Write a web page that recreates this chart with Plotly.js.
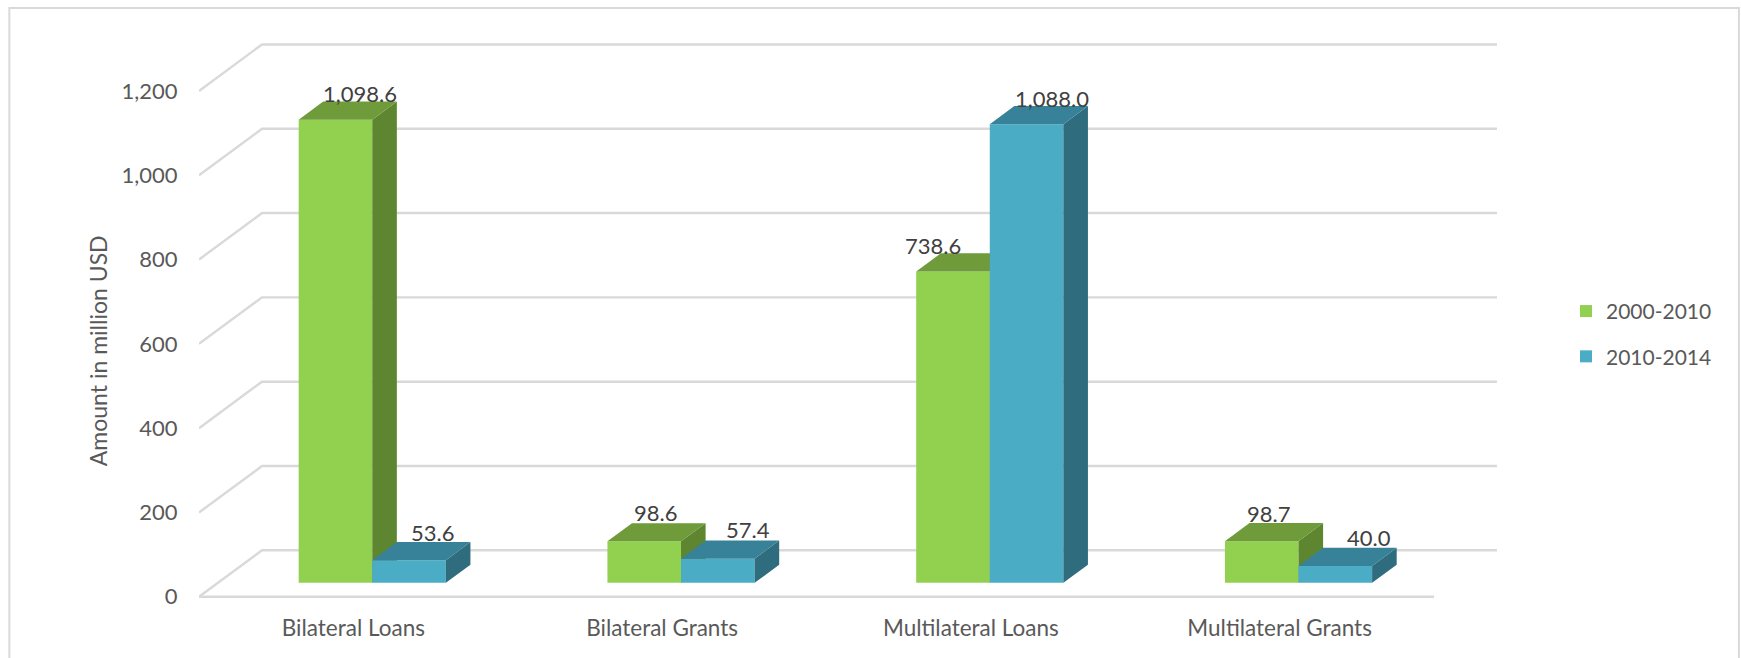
<!DOCTYPE html>
<html>
<head>
<meta charset="utf-8">
<script src="https://cdn.plot.ly/plotly-3.0.1.min.js"></script>
<style>html,body{margin:0;padding:0;background:#fff;overflow:hidden}#chart{width:1741px;height:658px}</style>
</head>
<body>
<div id="chart"></div>
<script>
// Financing by instrument, drawn as oblique "3D" clustered columns.
const categories = ["Bilateral Loans", "Bilateral Grants", "Multilateral Loans", "Multilateral Grants"];
const series2000 = [1098.6, 98.6, 738.6, 98.7];
const series2010 = [53.6, 57.4, 1088.0, 40.0];
const yTicks = [0, 200, 400, 600, 800, 1000, 1200];

// Data-label offsets from the centre of each column's back edge, in pixels.
const labelDx2000 = [0, -13, -45, -18];
const labelDy2000 = [8, 11, 8, 10];
const labelDx2010 = [-1, 6, 1, 9];
const labelDy2010 = [10, 11, 8, 10];

const W = 1741, H = 658;
const pxPerValue = 0.4217;
const yFloorPad = 10; // value units kept below zero so the floor line is not clipped
const plotL = 198.7, plotR = 1497, plotT = 36, zeroPx = 597;
const plotB = zeroPx + yFloorPad * pxPerValue;

// Oblique projection: full floor depth expressed in axis units.
const wallDx = 63 / 308.8, wallDy = 46.5 / pxPerValue;
const barDepthStart = 0.30, barDepth = 0.39;
const barW = 73.6 / 308.8;
const xRange = [-0.5, 3.5 + wallDx];
const yRange = [-yFloorPad, (zeroPx - plotT) / pxPerValue];

const FONT = "Lato, 'Open Sans', sans-serif";
const GRID = "#d9d9d9", TEXT = "#595959", LABEL = "#404040";

const floorX = barDepthStart * wallDx, floorY = barDepthStart * wallDy;
const depthX = barDepth * wallDx, depthY = barDepth * wallDy;

const pxX = x => (x - plotL) / (plotR - plotL);
const pxY = y => (plotB - y) / (plotB - plotT);

// Floor diagonals and back-wall lines for every tick.
const gridX = [], gridY = [];
yTicks.forEach(v => {
  gridX.push(xRange[0], xRange[0] + wallDx, xRange[1], null);
  gridY.push(v, v + wallDy, v + wallDy, null);
});
gridX.push(xRange[0], 3.5, null);
gridY.push(0, 0, null);

function columnTraces(name, values, shift, front, top, side, xa, ya) {
  const lefts = values.map((_, i) => i + floorX + shift);
  const sideX = [], sideY = [], topX = [], topY = [];
  values.forEach((v, i) => {
    const l = lefts[i], r = l + barW, t = floorY + v;
    sideX.push(r, r + depthX, r + depthX, r, r, null);
    sideY.push(floorY, floorY + depthY, t + depthY, t, floorY, null);
    topX.push(l, r, r + depthX, l + depthX, l, null);
    topY.push(t, t, t + depthY, t + depthY, t, null);
  });
  const face = (x, y, color) => ({
    type: "scatter", mode: "lines", x, y, xaxis: xa, yaxis: ya,
    fill: "toself", fillcolor: color, line: { width: 0, color },
    hoverinfo: "skip", showlegend: false, cliponaxis: false
  });
  return [
    {
      type: "bar", name, legendgroup: name,
      x: lefts.map(l => l + barW / 2), y: values,
      base: values.map(() => floorY), width: values.map(() => barW),
      marker: { color: front, line: { width: 0 } },
      xaxis: xa, yaxis: ya, hoverinfo: "x+y"
    },
    face(sideX, sideY, side),
    face(topX, topY, top)
  ];
}

function valueLabels(values, shift, dxs, dys) {
  return values.map((v, i) => ({
    x: i + floorX + shift + barW / 2 + depthX,
    y: floorY + v + depthY,
    xref: "x", yref: "y",
    text: v.toLocaleString("en-US", { minimumFractionDigits: 1, maximumFractionDigits: 1 }),
    showarrow: false, xanchor: "center", yanchor: "middle",
    xshift: dxs[i], yshift: dys[i],
    font: { family: FONT, size: 22, color: LABEL }
  }));
}

const data = [
  {
    type: "scatter", mode: "lines", x: gridX, y: gridY,
    line: { color: GRID, width: 2.4 }, hoverinfo: "skip", showlegend: false, cliponaxis: false
  },
  ...columnTraces("2000-2010", series2000, -barW, "#92d050", "#6f9b3a", "#5e8530", "x2", "y2"),
  ...columnTraces("2010-2014", series2010, 0, "#4bacc6", "#378298", "#2f6c7d", "x3", "y3")
];

const hiddenX = (a) => ({ overlaying: "x", range: xRange, visible: false, fixedrange: true, anchor: a });
const hiddenY = (a) => ({ overlaying: "y", range: yRange, visible: false, fixedrange: true, anchor: a });

const layout = {
  width: W, height: H,
  margin: { l: plotL, r: W - plotR, t: plotT, b: H - plotB, pad: 0 },
  paper_bgcolor: "#fff", plot_bgcolor: "rgba(0,0,0,0)",
  barmode: "overlay",
  xaxis: {
    range: xRange, tickmode: "array", tickvals: categories.map((_, i) => i), ticktext: categories,
    ticks: "outside", ticklen: 7, tickcolor: "rgba(0,0,0,0)", showgrid: false, zeroline: false, showline: false,
    tickfont: { family: FONT, size: 22.5, color: TEXT }, fixedrange: true
  },
  yaxis: {
    range: yRange, tickmode: "array", tickvals: yTicks, tickformat: ",",
    ticks: "outside", ticklen: 16, tickcolor: "rgba(0,0,0,0)", showgrid: false, zeroline: false, showline: false,
    tickfont: { family: FONT, size: 22, color: TEXT }, ticklabelshift: 4.75,
    fixedrange: true
  },
  xaxis2: hiddenX("y2"), yaxis2: hiddenY("x2"),
  xaxis3: hiddenX("y3"), yaxis3: hiddenY("x3"),
  legend: {
    x: pxX(1566), y: pxY(291), xanchor: "left", yanchor: "top",
    font: { family: FONT, size: 21, color: TEXT }, bgcolor: "rgba(0,0,0,0)",
    tracegroupgap: 15, itemclick: false, itemdoubleclick: false
  },
  annotations: [
    {
      // Value-axis title, centred on the span of the front tick labels.
      xref: "paper", yref: "paper", x: pxX(98), y: pxY(351),
      text: "Amount in million USD", textangle: -90, showarrow: false,
      xanchor: "center", yanchor: "middle",
      font: { family: FONT, size: 23, color: TEXT }
    },
    ...valueLabels(series2000, -barW, labelDx2000, labelDy2000),
    ...valueLabels(series2010, 0, labelDx2010, labelDy2010)
  ],
  shapes: [{
    // Chart frame: open at the bottom, running off the page.
    type: "path", xref: "paper", yref: "paper", layer: "below",
    path: `M${pxX(9)},${pxY(670)} L${pxX(9)},${pxY(8)} L${pxX(1739)},${pxY(8)} L${pxX(1739)},${pxY(670)}`,
    line: { color: GRID, width: 2 }
  }],
  showlegend: true
};

Plotly.newPlot("chart", data, layout, { displayModeBar: false, staticPlot: true });
</script>
</body>
</html>
